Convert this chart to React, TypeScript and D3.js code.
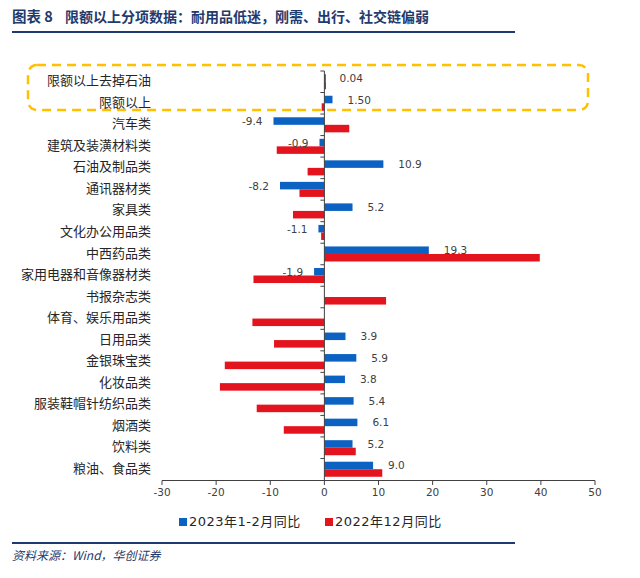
import React from "react";
import * as d3 from "d3";

const categories = [
  "限额以上去掉石油",
  "限额以上",
  "汽车类",
  "建筑及装潢材料类",
  "石油及制品类",
  "通讯器材类",
  "家具类",
  "文化办公用品类",
  "中西药品类",
  "家用电器和音像器材类",
  "书报杂志类",
  "体育、娱乐用品类",
  "日用品类",
  "金银珠宝类",
  "化妆品类",
  "服装鞋帽针纺织品类",
  "烟酒类",
  "饮料类",
  "粮油、食品类",
];

const series2023 = [0.04, 1.5, -9.4, -0.9, 10.9, -8.2, 5.2, -1.1, 19.3, -1.9, null, null, 3.9, 5.9, 3.8, 5.4, 6.1, 5.2, 9.0];
const labels2023 = ["0.04", "1.50", "-9.4", "-0.9", "10.9", "-8.2", "5.2", "-1.1", "19.3", "-1.9", "", "", "3.9", "5.9", "3.8", "5.4", "6.1", "5.2", "9.0"];
const series2022 = [0.3, -0.5, 4.6, -8.8, -3.1, -4.6, -5.8, -0.6, 39.8, -13.1, 11.4, -13.3, -9.3, -18.4, -19.3, -12.5, -7.5, 5.8, 10.7];

const xTicks = [-30, -20, -10, 0, 10, 20, 30, 40, 50];
const seriesNames = ["2023年1-2月同比", "2022年12月同比"];
const title = "限额以上分项数据：耐用品低迷，刚需、出行、社交链偏弱";

const BLUE = "#0B62C2";
const RED = "#E4141E";
const NAVY = "#1F3A6E";

export default function App() {
  const W = 640, H = 578;
  const x = d3.scaleLinear().domain([-30, 50]).range([162, 595]);
  const y = d3.scaleBand<string>().domain(categories).range([71, 480]).padding(0);
  const sub = d3.scaleBand<string>().domain(["a", "b"]).range([0, y.bandwidth()]).paddingInner(0).paddingOuter(0.43);
  const bh = sub.bandwidth();
  const x0 = x(0);
  const numFont = "'DejaVu Sans', Verdana, sans-serif";
  const cjkFont = "'Noto Sans CJK SC', 'Noto Sans', sans-serif";

  return (
    <svg width={W} height={H} style={{ position: "absolute", left: 0, top: 0, background: "#fff" }}>
      <rect x={0} y={0} width={W} height={H} fill="#fff" />
      {/* Title */}
      <text x={12} y={22} fontFamily={cjkFont} fontWeight="bold" fontSize={14.5} fill={NAVY}>图表 8</text>
      <text x={65} y={22} fontFamily={cjkFont} fontWeight="bold" fontSize={14} fill={NAVY}>{title}</text>
      <line x1={12} x2={515} y1={32} y2={32} stroke={NAVY} strokeWidth={2} />

      {/* dashed highlight */}
      <rect x={28} y={65} width={560} height={45} rx={9} ry={9} fill="none" stroke="#FFC000" strokeWidth={2.5} strokeDasharray="9,6" />

      {/* bars */}
      {categories.map((c, i) => {
        const yb = (y(c) as number);
        const v1 = series2023[i];
        const v2 = series2022[i];
        return (
          <g key={c}>
            {v1 !== null && (
              <rect x={Math.min(x(v1), x0)} y={yb + (sub("a") as number)} width={Math.max(Math.abs(x(v1) - x0), 1.5)} height={bh} fill={BLUE} />
            )}
            {v2 !== null && (
              <rect x={Math.min(x(v2), x0)} y={yb + (sub("b") as number)} width={Math.max(Math.abs(x(v2) - x0), 1.5)} height={bh} fill={RED} />
            )}
          </g>
        );
      })}

      {/* data labels */}
      {categories.map((c, i) => {
        const v1 = series2023[i];
        if (v1 === null) return null;
        const yc = (y(c) as number) + (sub("a") as number) + bh / 2 + 1;
        const pos = v1 >= 0;
        return (
          <text key={"l" + c} x={pos ? x(v1) + 15 : x(v1) - 11} y={yc} textAnchor={pos ? "start" : "end"} dominantBaseline="middle" fontFamily={numFont} fontSize={10.5} fill="#404040">
            {labels2023[i]}
          </text>
        );
      })}

      {/* y axis */}
      <line x1={x0} x2={x0} y1={71} y2={480} stroke="#404040" strokeWidth={1} />
      {categories.map((c, i) => (
        <line key={"yt" + i} x1={x0 - 4} x2={x0} y1={(y(c) as number)} y2={(y(c) as number)} stroke="#404040" strokeWidth={1} />
      ))}
      {categories.map((c) => (
        <text key={"yl" + c} x={151} y={(y(c) as number) + y.bandwidth() / 2} textAnchor="end" dominantBaseline="middle" fontFamily={cjkFont} fontSize={13} fill="#262626">
          {c}
        </text>
      ))}

      {/* x axis */}
      <line x1={x(-30)} x2={x(50)} y1={480.5} y2={480.5} stroke="#404040" strokeWidth={1} />
      {xTicks.map((t) => (
        <g key={"xt" + t}>
          <line x1={x(t)} x2={x(t)} y1={480.5} y2={485} stroke="#404040" strokeWidth={1} />
          <text x={x(t)} y={493} textAnchor="middle" dominantBaseline="middle" fontFamily={numFont} fontSize={10.5} fill="#404040">{t}</text>
        </g>
      ))}

      {/* legend */}
      <rect x={179} y={518} width={8} height={8} fill={BLUE} />
      <text x={189} y={522} dominantBaseline="middle" fontFamily={numFont + ", " + cjkFont} fontSize={13} letterSpacing={0.5} fill="#262626">{seriesNames[0]}</text>
      <rect x={325} y={518} width={8} height={8} fill={RED} />
      <text x={335} y={522} dominantBaseline="middle" fontFamily={numFont + ", " + cjkFont} fontSize={13} letterSpacing={0.5} fill="#262626">{seriesNames[1]}</text>

      {/* footer */}
      <line x1={12} x2={515} y1={543} y2={543} stroke={NAVY} strokeWidth={2} />
      <text x={12} y={560} fontFamily={cjkFont} fontStyle="italic" fontSize={12} fill={NAVY}>资料来源：Wind，华创证券</text>
    </svg>
  );
}
